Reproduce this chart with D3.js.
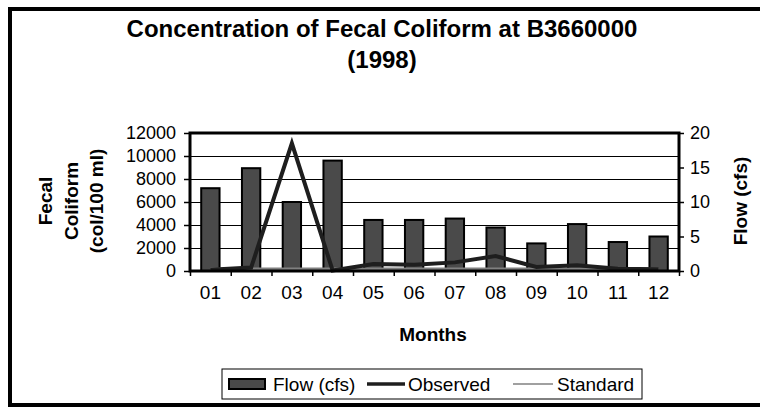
<!DOCTYPE html>
<html>
<head>
<meta charset="utf-8">
<script src="https://cdn.jsdelivr.net/npm/d3@7"></script>
<style>
  body { margin: 0; background: #fff; }
  text { font-family: "Liberation Sans", Arial, sans-serif; fill: #000; }
</style>
</head>
<body>
<div id="chart"></div>
<script>
// data
var months = ["01","02","03","04","05","06","07","08","09","10","11","12"];
var flow = [12, 14.9, 10, 16, 7.4, 7.4, 7.6, 6.3, 4, 6.8, 4.2, 5];
var observed = [100, 300, 11100, 50, 600, 550, 750, 1300, 350, 500, 200, 150];
var standard = [200, 200, 200, 200, 200, 200, 200, 200, 200, 200, 200, 200];
var leftTicks = [0, 2000, 4000, 6000, 8000, 10000, 12000];
var rightTicks = [0, 5, 10, 15, 20];

var W = 760, H = 407;
var plot = {left: 190, top: 133, right: 679, bottom: 271};
var pw = plot.right - plot.left, ph = plot.bottom - plot.top;

var svg = d3.select("#chart").append("svg")
    .attr("width", W).attr("height", H);

// outer frame (right edge falls outside the picture)
svg.append("rect")
    .attr("x", 10).attr("y", 9)
    .attr("width", 780).attr("height", 396)
    .attr("fill", "#fff")
    .attr("stroke", "#000").attr("stroke-width", 4);

// title
svg.append("text").attr("x", 382).attr("y", 37)
    .attr("text-anchor", "middle").attr("font-size", "24px").attr("font-weight", "bold")
    .text("Concentration of Fecal Coliform at B3660000");
svg.append("text").attr("x", 382).attr("y", 68)
    .attr("text-anchor", "middle").attr("font-size", "24px").attr("font-weight", "bold")
    .text("(1998)");

var g = svg.append("g").attr("transform", "translate(" + plot.left + "," + plot.top + ")");

var x = d3.scaleBand().domain(months).range([0, pw])
    .paddingInner(0.55).paddingOuter(0.275);
var xEdge = d3.scaleLinear().domain([0, 12]).range([0, pw]);
var yL = d3.scaleLinear().domain([0, 12000]).range([ph, 0]);
var yR = d3.scaleLinear().domain([0, 20]).range([ph, 0]);

// gridlines
g.append("g")
    .call(d3.axisLeft(yL).tickValues(leftTicks.slice(1, -1)).tickSize(-pw).tickFormat(""))
    .call(function(s){ s.select(".domain").remove(); })
    .selectAll("line").attr("stroke", "#000").attr("stroke-width", 1);

// bars
g.selectAll("rect.bar")
    .data(flow)
    .enter()
    .append("rect")
    .attr("class", "bar")
    .attr("x", function(d, i){ return x(months[i]); })
    .attr("y", function(d){ return yR(d); })
    .attr("width", x.bandwidth())
    .attr("height", function(d){ return ph - yR(d); })
    .attr("fill", "#4a4a4a")
    .attr("stroke", "#000").attr("stroke-width", 2);

var cx = function(d, i){ return x(months[i]) + x.bandwidth() / 2; };

// standard line
g.append("path").datum(standard)
    .attr("fill", "none").attr("stroke", "#808080").attr("stroke-width", 2.5)
    .attr("d", d3.line().x(cx).y(function(d){ return yL(d); }));

// observed line
g.append("path").datum(observed)
    .attr("fill", "none").attr("stroke", "#1e1e1e").attr("stroke-width", 4)
    .attr("d", d3.line().x(cx).y(function(d){ return yL(d); }));

// plot border (thick)
g.append("rect").attr("x", 0).attr("y", 0).attr("width", pw).attr("height", ph)
    .attr("fill", "none").attr("stroke", "#000").attr("stroke-width", 3);

// left axis
var la = g.append("g")
    .call(d3.axisLeft(yL).tickValues(leftTicks).tickSize(6).tickPadding(8).tickFormat(d3.format("d")));
la.select(".domain").remove();
la.selectAll("line").attr("stroke", "#000").attr("stroke-width", 1.5);
la.selectAll("text").attr("font-size", "18px").attr("font-family", "Liberation Sans, Arial, sans-serif");

// right axis
var ra = g.append("g").attr("transform", "translate(" + pw + ",0)")
    .call(d3.axisRight(yR).tickValues(rightTicks).tickSize(5).tickPadding(6).tickFormat(d3.format("d")));
ra.select(".domain").remove();
ra.selectAll("line").attr("stroke", "#000").attr("stroke-width", 1.5);
ra.selectAll("text").attr("font-size", "18px").attr("font-family", "Liberation Sans, Arial, sans-serif");

// x axis ticks between months
var xa = g.append("g").attr("transform", "translate(0," + ph + ")")
    .call(d3.axisBottom(xEdge).tickValues(d3.range(13)).tickSize(5).tickFormat(""));
xa.select(".domain").remove();
xa.selectAll("line").attr("stroke", "#000").attr("stroke-width", 1.5);

// x labels
var xl = g.append("g").attr("transform", "translate(0," + ph + ")")
    .call(d3.axisBottom(x).tickSize(0).tickPadding(15));
xl.select(".domain").remove();
xl.selectAll("text").attr("font-size", "19px").attr("font-family", "Liberation Sans, Arial, sans-serif");

// axis titles
svg.append("text").attr("x", 433).attr("y", 341)
    .attr("text-anchor", "middle").attr("font-size", "19px").attr("font-weight", "bold")
    .text("Months");

var yTitle = ["Fecal", "Coliform", "(col/100 ml)"];
var yt = svg.append("text")
    .attr("transform", "translate(52,201) rotate(-90)")
    .attr("text-anchor", "middle").attr("font-size", "19px").attr("font-weight", "bold");
yTitle.forEach(function(t, i){
    yt.append("tspan").attr("x", 0).attr("y", i * 25.5).text(t);
});

svg.append("text")
    .attr("transform", "translate(747,201) rotate(-90)")
    .attr("text-anchor", "middle").attr("font-size", "19px").attr("font-weight", "bold")
    .text("Flow (cfs)");

// legend
var lg = svg.append("g");
lg.append("rect").attr("x", 222).attr("y", 369).attr("width", 420).attr("height", 30)
    .attr("fill", "#fff").attr("stroke", "#000").attr("stroke-width", 1);
lg.append("rect").attr("x", 229).attr("y", 379).attr("width", 36).attr("height", 10)
    .attr("fill", "#4a4a4a").attr("stroke", "#000").attr("stroke-width", 2);
lg.append("text").attr("x", 273).attr("y", 391).attr("font-size", "19px").text("Flow (cfs)");
lg.append("line").attr("x1", 367).attr("x2", 405).attr("y1", 384).attr("y2", 384)
    .attr("stroke", "#1e1e1e").attr("stroke-width", 3.5);
lg.append("text").attr("x", 408).attr("y", 391).attr("font-size", "19px").text("Observed");
lg.append("line").attr("x1", 513).attr("x2", 553).attr("y1", 384).attr("y2", 384)
    .attr("stroke", "#808080").attr("stroke-width", 1.5);
lg.append("text").attr("x", 557).attr("y", 391).attr("font-size", "19px").text("Standard");
</script>
</body>
</html>
